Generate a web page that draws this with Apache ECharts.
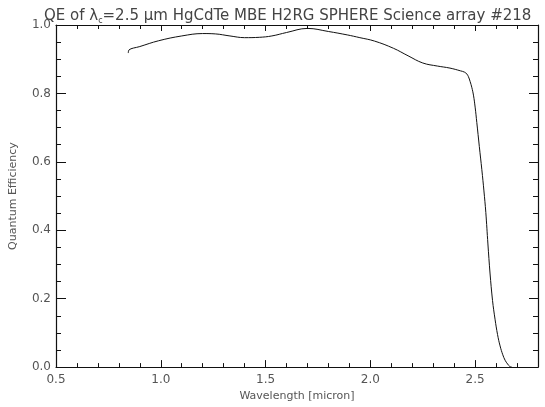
<!DOCTYPE html>
<html>
<head>
<meta charset="utf-8">
<script src="https://cdn.jsdelivr.net/npm/echarts@6/dist/echarts.min.js"></script>
<style>html,body{margin:0;padding:0;background:#fff;}#c{width:545px;height:407px;}</style>
</head>
<body>
<div id="c"></div>
<script>
// Data
var wavelength = [0.845,0.848,0.90,0.99,1.10,1.20,1.26,1.33,1.40,1.47,1.53,1.60,1.70,1.80,1.89,1.95,2.02,2.11,2.18,2.25,2.32,2.38,2.43,2.45,2.46,2.468,2.476,2.484,2.492,2.50,2.508,2.52,2.532,2.542,2.551,2.561,2.571,2.583,2.595,2.607,2.619,2.632,2.643,2.655,2.665,2.675];
var qe = [0.918,0.927,0.937,0.954,0.968,0.975,0.974,0.968,0.963,0.964,0.968,0.978,0.990,0.981,0.971,0.963,0.953,0.932,0.910,0.889,0.880,0.874,0.866,0.862,0.857,0.849,0.835,0.818,0.795,0.760,0.715,0.645,0.577,0.515,0.452,0.36,0.275,0.195,0.140,0.095,0.062,0.036,0.020,0.009,0.002,0.0];
var xTickLabels = ['0.5','1.0','1.5','2.0','2.5'];
var yTickLabels = ['0.0','0.2','0.4','0.6','0.8','1.0'];

var FONT = 'DejaVu Sans';
var labelColor = '#555';
var lineColor = '#111';
var data = wavelength.map(function (w, i) { return [w, qe[i]]; });

function xAx(pos, interval, len, showLine, showLabel) {
  return {
    type: 'value', position: pos, min: 0.5, max: 2.8, interval: interval,
    axisLine: { show: showLine, onZero: false, lineStyle: { color: lineColor, width: 1.2 } },
    axisTick: { show: true, inside: true, length: len, lineStyle: { color: lineColor, width: 1 } },
    axisLabel: showLabel ? {
      show: true, margin: 7, color: labelColor, fontFamily: FONT, fontSize: 12,
      showMaxLabel: false,
      formatter: function (v) { var s = v.toFixed(1); return xTickLabels.indexOf(s) >= 0 ? s : ''; }
    } : { show: false },
    splitLine: { show: false }
  };
}
function yAx(pos, interval, len, showLine, showLabel) {
  return {
    type: 'value', position: pos, min: 0, max: 1.0, interval: interval,
    axisLine: { show: showLine, onZero: false, lineStyle: { color: lineColor, width: 1.2 } },
    axisTick: { show: true, inside: true, length: len, lineStyle: { color: lineColor, width: 1 } },
    axisLabel: showLabel ? {
      show: true, margin: 5, color: labelColor, fontFamily: FONT, fontSize: 12,
      formatter: function (v) { var s = v.toFixed(1); return yTickLabels.indexOf(s) >= 0 ? s : ''; }
    } : { show: false },
    splitLine: { show: false }
  };
}

var xMain = xAx('bottom', 0.5, 7, true, true);
xMain.name = 'Wavelength [micron]';
xMain.nameLocation = 'middle';
xMain.nameGap = 23;
xMain.nameTextStyle = { color: labelColor, fontFamily: FONT, fontSize: 11 };
var yMain = yAx('left', 0.2, 10, true, true);
yMain.name = 'Quantum Efficiency';
yMain.nameLocation = 'middle';
yMain.nameGap = 37;
yMain.nameTextStyle = { color: labelColor, fontFamily: FONT, fontSize: 11 };

var chart = echarts.init(document.getElementById('c'), null, { renderer: 'canvas' });
chart.setOption({
  backgroundColor: '#fff',
  animation: false,
  title: {
    text: '{a|QE of λ}{s|c}{a|=2.5 μm HgCdTe MBE H2RG SPHERE Science array #218}',
    left: 39, top: 3,
    textStyle: {
      fontWeight: 'normal',
      rich: {
        a: { fontFamily: FONT, fontSize: 15, fontWeight: 'normal', color: '#444' },
        s: { fontFamily: FONT, fontSize: 8, fontWeight: 'normal', color: '#444', padding: [9, 0, 0, 0] }
      }
    }
  },
  grid: { left: 54, top: 25, right: 7, bottom: 39, containLabel: false },
  xAxis: [
    xMain,
    xAx('bottom', 0.1, 4, false, false),
    xAx('top', 0.5, 6, true, false),
    xAx('top', 0.1, 4, false, false)
  ],
  yAxis: [
    yMain,
    yAx('left', 0.05, 5, false, false),
    yAx('right', 0.2, 9, true, false),
    yAx('right', 0.05, 5, false, false)
  ],
  series: [{
    type: 'line', xAxisIndex: 0, yAxisIndex: 0, data: data,
    showSymbol: false, smooth: 0.4,
    lineStyle: { color: '#111', width: 1 }
  }]
});
</script>
</body>
</html>
